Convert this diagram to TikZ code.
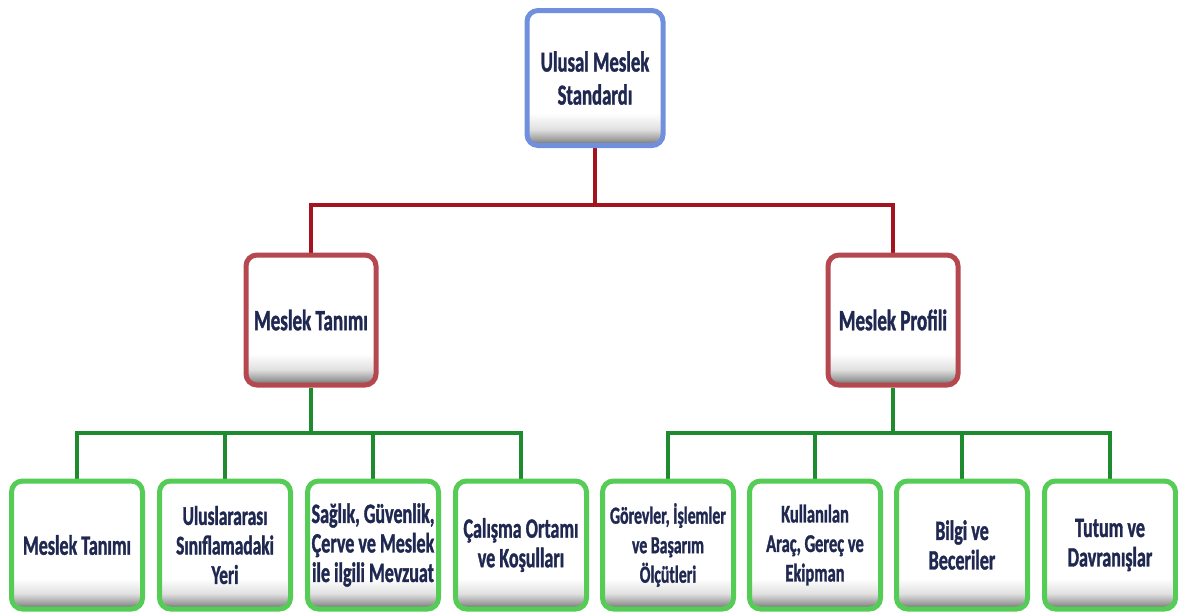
\documentclass[tikz,border=0pt]{standalone}
\usepackage{fontspec}
\setmainfont{Carlito}[FakeStretch=0.645, BoldFeatures={FakeBold=1.2}]
\usetikzlibrary{backgrounds}
\definecolor{txtnavy}{HTML}{1F2850}
\definecolor{bluebd}{HTML}{7090DD}
\definecolor{redbd}{HTML}{B5474F}
\definecolor{greenbd}{HTML}{55CC55}
\definecolor{redln}{HTML}{A3141E}
\definecolor{greenln}{HTML}{1E8C2E}
\pgfdeclareverticalshading{boxshade}{100bp}{color(0bp)=(black!60); color(25bp)=(black!60); color(27bp)=(black!40); color(31bp)=(black!12); color(37bp)=(white); color(100bp)=(white)}
\tikzset{
  box/.style={rectangle, rounded corners=11pt, line width=5pt, shading=boxshade, shading angle=0,
    align=center, text=txtnavy, inner sep=2pt},
  topbox/.style={box, draw=bluebd, minimum width=136pt, minimum height=135pt,
    font=\fontsize{29}{33}\selectfont\bfseries},
  midbox/.style={box, draw=redbd, minimum width=130pt, minimum height=130pt,
    font=\fontsize{29.5}{33}\selectfont\bfseries},
  leafbox/.style={box, draw=greenbd, minimum width=131pt, minimum height=128pt,
    font=\fontsize{28}{29.5}\selectfont\bfseries},
  smallleaf/.style={font=\fontsize{#1}{29.5}\selectfont\bfseries},
  redline/.style={draw=redln, line width=4pt},
  greenline/.style={draw=greenln, line width=4pt}
}
\begin{document}
\begin{tikzpicture}[x=1pt,y=-1pt]
\useasboundingbox (0,0) rectangle (1178,614);
\node[topbox] (top) at (595,78) {Ulusal Meslek\\Standardı};
\node[midbox] (mt) at (311,320) {Meslek Tanımı};
\node[midbox] (mp) at (893,320) {Meslek Profili};
\node[leafbox] (b1) at (77,545) {Meslek Tanımı};
\node[leafbox, smallleaf=27] (b2) at (225,545) {Uluslararası\\Sınıflamadaki\\Yeri};
\node[leafbox] (b3) at (373,545) {Sağlık, Güvenlik,\\Çerve ve Meslek\\ile ilgili Mevzuat};
\node[leafbox] (b4) at (521,545) {Çalışma Ortamı\\ve Koşulları};
\node[leafbox, smallleaf=24.5] (b5) at (668,545) {Görevler, İşlemler\\ve Başarım\\Ölçütleri};
\node[leafbox, smallleaf=25.5] (b6) at (815,545) {Kullanılan\\Araç, Gereç ve\\Ekipman};
\node[leafbox] (b7) at (962,545) {Bilgi ve\\Beceriler};
\node[leafbox] (b8) at (1110,545) {Tutum ve\\Davranışlar};
\coordinate (rj) at (595,205);
\coordinate (gl) at (311,433);
\coordinate (gr) at (893,433);
\begin{scope}[on background layer]
\draw[redline] (top.south) -- (rj);
\draw[redline] (rj) -| (mt.north);
\draw[redline] (rj) -| (mp.north);
\draw[greenline] (mt.south) -- (gl);
\draw[greenline] (mp.south) -- (gr);
\foreach \b in {b1,b2,b3,b4} {\draw[greenline] (gl) -| (\b.north);}
\foreach \b in {b5,b6,b7,b8} {\draw[greenline] (gr) -| (\b.north);}
\end{scope}
\end{tikzpicture}
\end{document}
